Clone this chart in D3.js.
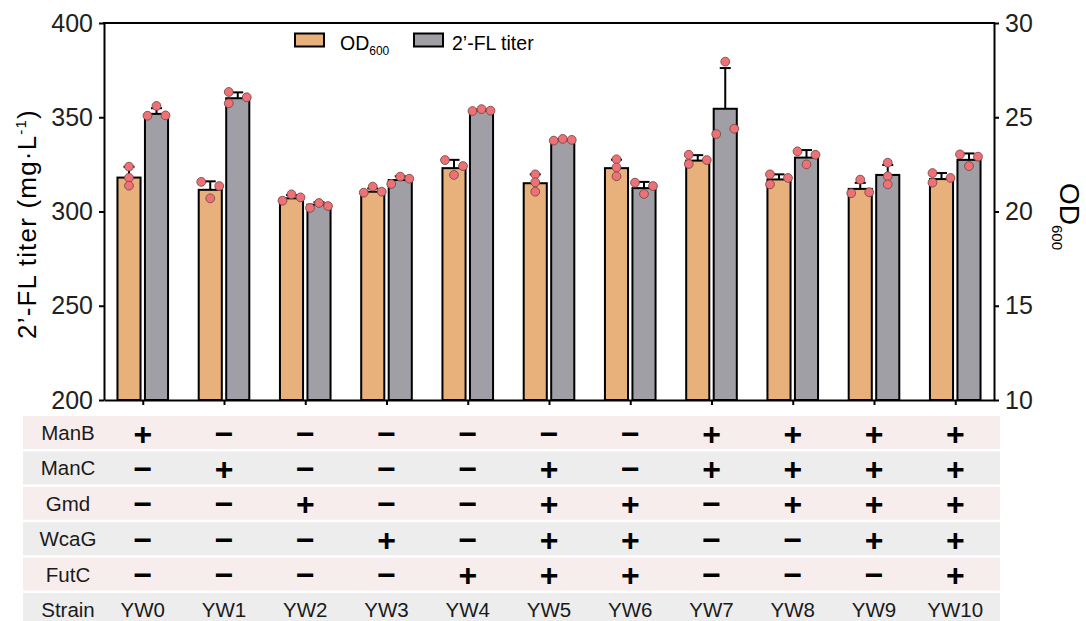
<!DOCTYPE html>
<html>
<head>
<meta charset="utf-8">
<script src="https://cdn.jsdelivr.net/npm/d3@7"></script>
<style>
  html, body { margin: 0; padding: 0; background: #fff; }
  svg { display: block; font-family: Arial, "Liberation Sans", sans-serif; }
</style>
</head>
<body>
<svg id="chart" width="1086" height="621"></svg>
<script>
// Strains
const strains = ["YW0", "YW1", "YW2", "YW3", "YW4", "YW5", "YW6", "YW7", "YW8", "YW9", "YW10"];

// OD600 (right axis): mean, SD and the three replicates
const od600Mean = [21.8, 21.15, 20.7, 21.05, 22.3, 21.5, 22.3, 22.7, 21.7, 21.2, 21.72];
const od600SD = [0.57, 0.45, 0.17, 0.17, 0.44, 0.47, 0.45, 0.29, 0.27, 0.32, 0.32];
const od600Reps = [
  [22.38, 21.79, 21.37], [21.57, 21.35, 20.70], [20.57, 20.91, 20.75], [21.00, 21.32, 21.05],
  [22.73, 21.94, 22.41], [21.97, 21.55, 21.05], [22.77, 22.34, 21.87], [23.01, 22.52, 22.73],
  [21.97, 21.44, 21.78], [20.97, 21.69, 21.02], [22.04, 21.53, 21.78]
];

// 2'-FL titer (left axis, mg/L): mean, SD and the three replicates
const titerMean = [351.8, 360.1, 303.6, 316.7, 353.5, 337.8, 312.4, 354.5, 328.6, 319.4, 327.4];
const titerSD = [3.0, 3.1, 1.3, 2.0, 0.6, 0.5, 3.3, 21.6, 4.0, 5.3, 3.4];
const titerReps = [
  [356.0, 350.8, 351.0], [363.4, 360.6, 357.4], [301.9, 304.5, 302.9], [314.6, 318.5, 317.4],
  [353.3, 354.3, 353.5], [337.6, 338.5, 338.0], [315.3, 309.3, 313.5], [379.5, 341.1, 343.9],
  [331.9, 325.0, 330.1], [325.9, 318.7, 314.4], [330.3, 324.1, 329.1]
];

// Scatter column slot of each replicate (-1 left, 0 middle, 1 right)
const od600Slots = [[0,0,0],[-1,1,0],[-1,0,1],[-1,0,1],[-1,0,1],[0,0,0],[0,0,0],[-1,-1,1],[-1,-1,1],[-1,0,1],[-1,-1,1]];
const titerSlots = [[0,-1,1],[-1,1,-1],[-1,0,1],[-1,0,1],[-1,0,1],[-1,0,1],[-1,0,1],[0,-1,1],[-1,0,1],[0,0,0],[-1,0,1]];

// Genotype table (1 = +, 0 = −)
const genes = ["ManB", "ManC", "Gmd", "WcaG", "FutC"];
const manB = [1, 0, 0, 0, 0, 0, 0, 1, 1, 1, 1];
const manC = [0, 1, 0, 0, 0, 1, 0, 1, 1, 1, 1];
const gmd  = [0, 0, 1, 0, 0, 1, 1, 0, 1, 1, 1];
const wcaG = [0, 0, 0, 1, 0, 1, 1, 0, 0, 1, 1];
const futC = [0, 0, 0, 0, 1, 1, 1, 0, 0, 0, 1];

const leftTicks = [200, 250, 300, 350, 400];
const rightTicks = [10, 15, 20, 25, 30];

// ---- layout ----
const svg = d3.select("#chart");
const plot = { left: 104, right: 994, top: 23, bottom: 400 };
const textColor = "#231f20";
const colOD = "#e8b07a", colTiter = "#a09fa5", colDot = "#ee7176";

const x = d3.scalePoint().domain(strains).range([plot.left, plot.right]).padding(0.477);
const sub = d3.scaleBand().domain(["od", "titer"]).range([-25.3, 25.3]).paddingInner(0.16);
const yTiter = d3.scaleLinear().domain([200, 400]).range([plot.bottom, plot.top]);
const yOD = d3.scaleLinear().domain([10, 30]).range([plot.bottom, plot.top]);

const series = [
  { key: "od", mean: od600Mean, sd: od600SD, reps: od600Reps, slots: od600Slots, y: yOD, fill: colOD },
  { key: "titer", mean: titerMean, sd: titerSD, reps: titerReps, slots: titerSlots, y: yTiter, fill: colTiter }
];

// ---- bars, error bars, replicate dots ----
const gBars = svg.append("g");
series.forEach(s => {
  const g = gBars.append("g");
  strains.forEach((st, i) => {
    const x0 = x(st) + sub(s.key);
    const bw = sub.bandwidth();
    const cx = x0 + bw / 2;
    const yTop = s.y(s.mean[i]);
    const yErr = s.y(s.mean[i] + s.sd[i]);
    // error bar (upper only)
    g.append("line").attr("x1", cx).attr("x2", cx).attr("y1", yTop).attr("y2", yErr)
      .attr("stroke", "#000").attr("stroke-width", 2);
    g.append("line").attr("x1", cx - 5.5).attr("x2", cx + 5.5).attr("y1", yErr).attr("y2", yErr)
      .attr("stroke", "#000").attr("stroke-width", 2);
    // bar
    g.append("rect").attr("x", x0).attr("width", bw)
      .attr("y", yTop).attr("height", plot.bottom - yTop)
      .attr("fill", s.fill).attr("stroke", "#000").attr("stroke-width", 2);
  });
});
series.forEach(s => {
  const g = gBars.append("g");
  strains.forEach((st, i) => {
    const cx = x(st) + sub(s.key) + sub.bandwidth() / 2;
    s.reps[i].forEach((v, k) => {
      g.append("circle").attr("cx", cx + s.slots[i][k] * 9).attr("cy", s.y(v)).attr("r", 4.4)
        .attr("fill", colDot).attr("stroke", "#7a4a4c").attr("stroke-width", 0.9);
    });
  });
});

// ---- axes ----
const axisLeft = d3.axisLeft(yTiter).tickValues(leftTicks).tickSize(5).tickSizeOuter(0).tickPadding(6);
const gL = svg.append("g").attr("transform", `translate(${plot.left},0)`).call(axisLeft);
const axisRight = d3.axisRight(yOD).tickValues(rightTicks).tickSize(5).tickSizeOuter(0).tickPadding(6);
const gR = svg.append("g").attr("transform", `translate(${plot.right},0)`).call(axisRight);
const axisBottom = d3.axisBottom(x).tickSize(5).tickSizeOuter(0).tickFormat("");
const gB = svg.append("g").attr("transform", `translate(0,${plot.bottom})`).call(axisBottom);
[gL, gR, gB].forEach(g => {
  g.selectAll("path.domain").attr("stroke", "#000").attr("stroke-width", 2);
  g.selectAll(".tick line").attr("stroke", "#000").attr("stroke-width", 2);
  g.selectAll(".tick text").attr("fill", textColor).attr("font-size", 25)
    .attr("font-family", "Arial, 'Liberation Sans', sans-serif");
});
svg.append("line").attr("x1", plot.left - 1).attr("x2", plot.right + 1)
  .attr("y1", plot.top).attr("y2", plot.top).attr("stroke", "#000").attr("stroke-width", 2);

// axis titles
const yTitle = svg.append("text")
  .attr("transform", "translate(36,224) rotate(-90)")
  .attr("text-anchor", "middle").attr("font-size", 26).attr("letter-spacing", 1.2).attr("fill", "#000");
yTitle.append("tspan").text("2’-FL titer (mg·L");
yTitle.append("tspan").attr("font-size", 15).attr("dy", -10).text("-1");
yTitle.append("tspan").attr("dy", 10).text(")");

const odTitle = svg.append("text")
  .attr("transform", "translate(1060,183) rotate(90)")
  .attr("font-size", 28).attr("fill", "#000");
odTitle.append("tspan").text("OD");
odTitle.append("tspan").attr("font-size", 15).attr("dy", 8).text("600");

// ---- legend ----
const legend = [
  { label: "OD", subText: "600", fill: colOD, x: 295, tx: 340 },
  { label: "2’-FL titer", subText: "", fill: colTiter, x: 414, tx: 452 }
];
const gLeg = svg.append("g");
legend.forEach(l => {
  gLeg.append("rect").attr("x", l.x).attr("y", 33.5).attr("width", 29).attr("height", 13)
    .attr("fill", l.fill).attr("stroke", "#000").attr("stroke-width", 2);
  const t = gLeg.append("text").attr("x", l.tx).attr("y", 50)
    .attr("font-size", 19.5).attr("fill", "#000");
  t.append("tspan").text(l.label);
  if (l.subText) t.append("tspan").attr("font-size", 12).attr("dy", 5).text(l.subText);
});

// ---- genotype table ----
const rows = [manB, manC, gmd, wcaG, futC];
const rowTop = 416, rowPitch = 35.4, rowH = 33;
const gT = svg.append("g");
rows.concat([null]).forEach((r, j) => {
  const y0 = rowTop + j * rowPitch;
  gT.append("rect").attr("x", 23).attr("y", y0).attr("width", 977).attr("height", rowH)
    .attr("fill", j % 2 === 0 ? "#f8eded" : "#ededed");
  const cy = y0 + rowH / 2;
  gT.append("text").attr("x", 68).attr("y", cy).attr("text-anchor", "middle")
    .attr("dominant-baseline", "central").attr("font-size", 20.5).attr("fill", "#1a1a1a")
    .text(r ? genes[j] : "Strain");
  strains.forEach((st, i) => {
    if (r) {
      gT.append("text").attr("x", x(st)).attr("y", cy + 1).attr("text-anchor", "middle")
        .attr("dominant-baseline", "central").attr("font-size", 32).attr("font-weight", "bold")
        .attr("fill", "#000").text(r[i] ? "+" : "−");
    } else {
      gT.append("text").attr("x", x(st)).attr("y", cy).attr("text-anchor", "middle")
        .attr("dominant-baseline", "central").attr("font-size", 20.5).attr("fill", "#1a1a1a")
        .text(st);
    }
  });
});
</script>
</body>
</html>
